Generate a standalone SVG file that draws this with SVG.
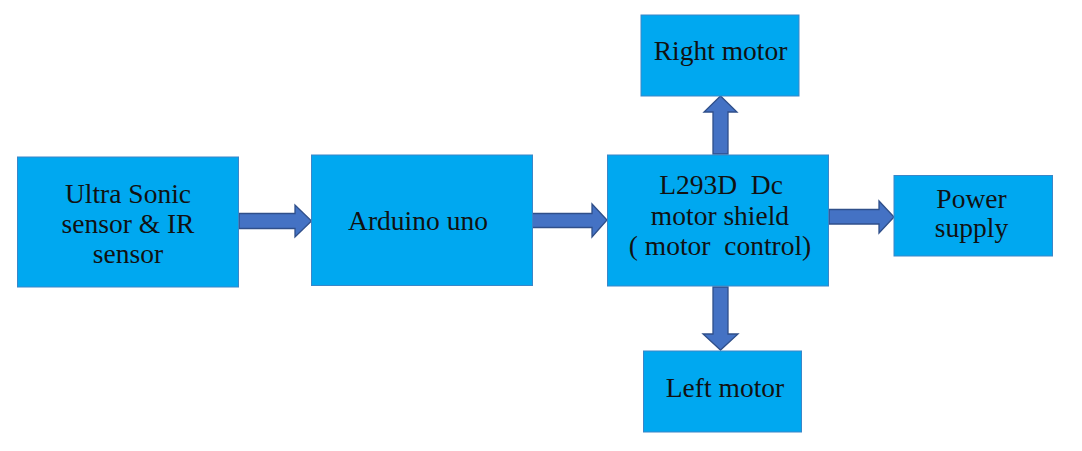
<svg xmlns="http://www.w3.org/2000/svg" width="1082" height="451" viewBox="0 0 1082 451">
<style>
.box{fill:#00A8F0;stroke:#3A86C8;stroke-width:1}
.arr{fill:#4472C4;stroke:#2F4F8A;stroke-width:1.3;stroke-linejoin:miter}
text{font-family:"Liberation Serif","Times New Roman",serif;font-size:27.5px;fill:#111;text-anchor:middle}
</style>
<rect width="1082" height="451" fill="#fff"/>
<g id="connectors">
<polygon class="arr" points="239,213.5 295,213.5 295,205 311.5,221 295,237 295,228.5 239,228.5"/>
<polygon class="arr" points="532,213.5 592,213.5 592,204 607,220 592,237 592,227.5 532,227.5"/>
<polygon class="arr" points="829,209.5 879,209.5 879,201 894,217 879,233 879,224 829,224"/>
<polygon class="arr" points="713,154 713,112 704,112 720.5,96 737,112 728,112 728,154"/>
<polygon class="arr" points="713,287 713,334 703,334 720.5,350 738,334 728,334 728,287"/>
</g>
<g id="sensor">
<rect class="box" x="17.5" y="157" width="221" height="130"/>
<text x="128" y="202.5">Ultra Sonic</text>
<text x="128" y="232.5">sensor &amp; IR</text>
<text x="128" y="262.5">sensor</text>
</g>
<g id="arduino">
<rect class="box" x="311.5" y="155" width="221" height="130.5"/>
<text x="418" y="230">Arduino uno</text>
</g>
<g id="shield">
<rect class="box" x="607.5" y="155" width="221" height="131"/>
<text x="721" y="194" xml:space="preserve">L293D  Dc</text>
<text x="720" y="224.5">motor shield</text>
<text x="720" y="255" xml:space="preserve">( motor  control)</text>
</g>
<g id="right-motor">
<rect class="box" x="641" y="15" width="158" height="81"/>
<text x="720.5" y="60">Right motor</text>
</g>
<g id="power">
<rect class="box" x="894" y="175.5" width="158.5" height="80.5"/>
<text x="971.5" y="208">Power</text>
<text x="971.5" y="237">supply</text>
</g>
<g id="left-motor">
<rect class="box" x="643.5" y="351" width="158" height="81"/>
<text x="725" y="397">Left motor</text>
</g>
</svg>
